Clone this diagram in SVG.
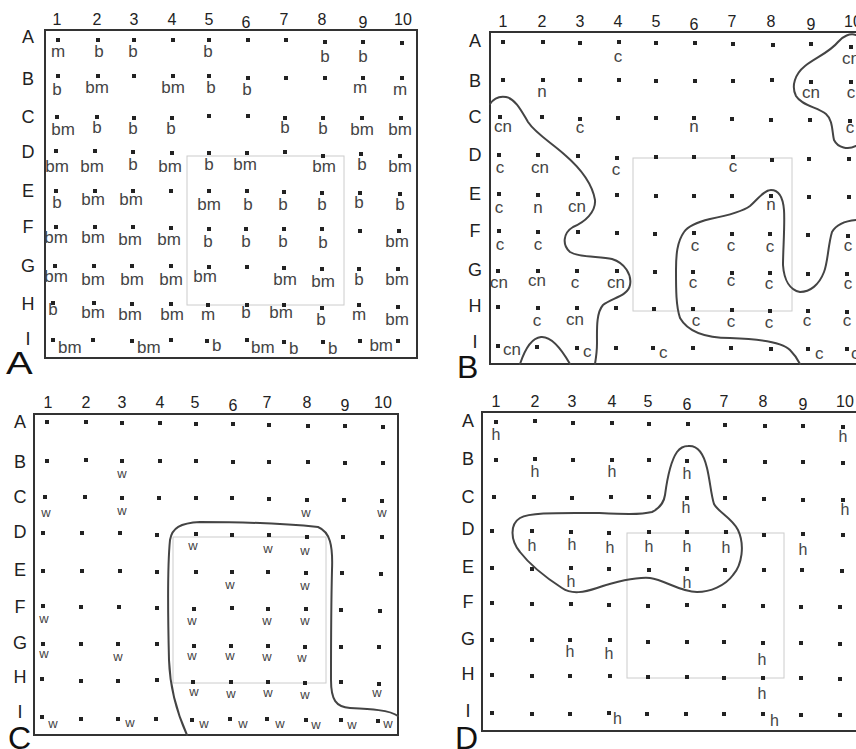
<svg xmlns="http://www.w3.org/2000/svg" xmlns:xlink="http://www.w3.org/1999/xlink" width="856" height="749" viewBox="0 0 856 749">
<style>
text{font-family:"Liberation Sans",Arial,sans-serif}
.hd{font-size:16px;fill:#222;text-anchor:middle}
.rl{font-size:18px;fill:#222;text-anchor:middle}
.lb{font-family:"Liberation Sans Narrow","Arial Narrow","Liberation Sans",sans-serif;font-size:17px;fill:#444;text-anchor:middle}
.ls{text-anchor:start}
.le{text-anchor:end}
.lw{font-size:13px;fill:#444;text-anchor:middle}
.lh{font-family:"Liberation Sans Narrow","Arial Narrow","Liberation Sans",sans-serif;font-size:16px;fill:#444;text-anchor:middle}
.pl{font-size:32px;fill:#111}
.fr{fill:none;stroke:#333;stroke-width:2}
.gr{fill:none;stroke:#ccc;stroke-width:1}
.cv{fill:none;stroke:#444;stroke-width:2;stroke-linecap:round}
</style>
<defs><rect id="d" x="-2" y="-2" width="4" height="4" fill="#222"/></defs>
<rect width="856" height="749" fill="#fff"/>

<g id="panelA">
<rect class="gr" x="187" y="156" width="157" height="149"/>
<rect class="fr" x="45" y="30" width="372" height="328"/>
<g class="hd"><text x="57" y="25">1</text><text x="97" y="25">2</text><text x="134" y="25">3</text><text x="172" y="25">4</text><text x="209" y="25">5</text><text x="246" y="28">6</text><text x="284" y="25">7</text><text x="322" y="25">8</text><text x="363" y="28">9</text><text x="403" y="25">10</text></g>
<g class="rl"><text x="28" y="43">A</text><text x="28" y="85">B</text><text x="28" y="123">C</text><text x="28" y="158">D</text><text x="28" y="197">E</text><text x="28" y="233">F</text><text x="28" y="272">G</text><text x="28" y="310">H</text><text x="28" y="345">I</text></g>
<g id="dotsA">
<use href="#d" x="58" y="40"/><use href="#d" x="98" y="40"/><use href="#d" x="134" y="40"/><use href="#d" x="173" y="40"/><use href="#d" x="209" y="40"/><use href="#d" x="248" y="40"/><use href="#d" x="286" y="40"/><use href="#d" x="325" y="42"/><use href="#d" x="363" y="42"/><use href="#d" x="402" y="43"/>
<use href="#d" x="58" y="76"/><use href="#d" x="98" y="76"/><use href="#d" x="134" y="76"/><use href="#d" x="173" y="76"/><use href="#d" x="209" y="76"/><use href="#d" x="248" y="78"/><use href="#d" x="286" y="78"/><use href="#d" x="325" y="78"/><use href="#d" x="363" y="78"/><use href="#d" x="402" y="78"/>
<use href="#d" x="57" y="117"/><use href="#d" x="97" y="117"/><use href="#d" x="134" y="118"/><use href="#d" x="172" y="118"/><use href="#d" x="209" y="116"/><use href="#d" x="248" y="116"/><use href="#d" x="285" y="118"/><use href="#d" x="323" y="118"/><use href="#d" x="362" y="118"/><use href="#d" x="401" y="118"/>
<use href="#d" x="56" y="151"/><use href="#d" x="95" y="151"/><use href="#d" x="133" y="152"/><use href="#d" x="172" y="153"/><use href="#d" x="209" y="153"/><use href="#d" x="247" y="153"/><use href="#d" x="285" y="152"/><use href="#d" x="323" y="156"/><use href="#d" x="361" y="154"/><use href="#d" x="400" y="156"/>
<use href="#d" x="56" y="191"/><use href="#d" x="95" y="191"/><use href="#d" x="133" y="191"/><use href="#d" x="171" y="191"/><use href="#d" x="209" y="191"/><use href="#d" x="247" y="191"/><use href="#d" x="284" y="192"/><use href="#d" x="322" y="193"/><use href="#d" x="360" y="193"/><use href="#d" x="400" y="194"/>
<use href="#d" x="56" y="227"/><use href="#d" x="95" y="227"/><use href="#d" x="133" y="227"/><use href="#d" x="171" y="228"/><use href="#d" x="209" y="229"/><use href="#d" x="246" y="229"/><use href="#d" x="284" y="229"/><use href="#d" x="322" y="229"/><use href="#d" x="360" y="231"/><use href="#d" x="399" y="231"/>
<use href="#d" x="55" y="266"/><use href="#d" x="94" y="266"/><use href="#d" x="132" y="266"/><use href="#d" x="171" y="266"/><use href="#d" x="209" y="267"/><use href="#d" x="247" y="267"/><use href="#d" x="284" y="268"/><use href="#d" x="322" y="269"/><use href="#d" x="359" y="269"/><use href="#d" x="398" y="269"/>
<use href="#d" x="53" y="303"/><use href="#d" x="94" y="303"/><use href="#d" x="132" y="304"/><use href="#d" x="171" y="304"/><use href="#d" x="208" y="305"/><use href="#d" x="247" y="305"/><use href="#d" x="284" y="305"/><use href="#d" x="322" y="308"/><use href="#d" x="359" y="305"/><use href="#d" x="398" y="307"/>
<use href="#d" x="53" y="340"/><use href="#d" x="93" y="340"/><use href="#d" x="132" y="341"/><use href="#d" x="171" y="340"/><use href="#d" x="207" y="341"/><use href="#d" x="247" y="340"/><use href="#d" x="284" y="342"/><use href="#d" x="323" y="342"/><use href="#d" x="360" y="341"/><use href="#d" x="398" y="341"/>
</g>
<g class="lb">
<text x="58" y="57">m</text><text x="99" y="57">b</text><text x="133" y="57">b</text><text x="208" y="57">b</text><text x="325" y="62">b</text><text x="363" y="62">b</text>
<text x="57" y="95">b</text><text x="97" y="93">bm</text><text x="173" y="93">bm</text><text x="211" y="93">b</text><text x="247" y="95">b</text><text x="360" y="93">m</text><text x="400" y="95">m</text>
<text x="63" y="135">bm</text><text x="97" y="133">b</text><text x="133" y="134">b</text><text x="171" y="134">b</text><text x="285" y="133">b</text><text x="323" y="134">b</text><text x="362" y="135">bm</text><text x="400" y="135">bm</text>
<text x="57" y="172">bm</text><text x="92" y="172">bm</text><text x="133" y="170">b</text><text x="170" y="172">bm</text><text x="209" y="170">b</text><text x="245" y="170">bm</text><text x="324" y="172">bm</text><text x="362" y="170">b</text><text x="400" y="172">bm</text>
<text x="57" y="208">b</text><text x="93" y="205">bm</text><text x="131" y="205">bm</text><text x="209" y="210">bm</text><text x="248" y="210">b</text><text x="283" y="210">b</text><text x="322" y="210">b</text><text x="359" y="208">b</text><text x="400" y="210">b</text>
<text x="56" y="243">bm</text><text x="93" y="243">bm</text><text x="130" y="245">bm</text><text x="169" y="245">bm</text><text x="208" y="247">b</text><text x="246" y="247">b</text><text x="283" y="247">b</text><text x="323" y="248">b</text><text x="397" y="247">bm</text>
<text x="56" y="282">bm</text><text x="93" y="285">bm</text><text x="132" y="285">bm</text><text x="171" y="285">bm</text><text x="205" y="282">bm</text><text x="285" y="285">bm</text><text x="323" y="287">bm</text><text x="359" y="285">b</text><text x="397" y="285">bm</text>
<text x="53" y="315">b</text><text x="93" y="318">bm</text><text x="130" y="320">bm</text><text x="172" y="320">bm</text><text x="208" y="320">m</text><text x="246" y="318">b</text><text x="281" y="318">bm</text><text x="321" y="325">b</text><text x="359" y="320">m</text><text x="397" y="325">bm</text>
<text class="ls" x="58" y="353">bm</text><text class="ls" x="137" y="353">bm</text><text class="ls" x="212" y="351">b</text><text class="ls" x="251" y="353">bm</text><text class="ls" x="289" y="354">b</text><text class="ls" x="328" y="354">b</text><text class="le" x="393" y="351">bm</text>
</g>
<text class="pl" x="6" y="374" transform="translate(6,0) scale(1.25,1) translate(-6,0)">A</text>
</g>

<g id="panelB">
<rect class="gr" x="633" y="158" width="159" height="153"/>
<path class="fr" d="M 860,32 L 490,32 L 490,364 L 860,364"/>
<g class="hd"><text x="503" y="27">1</text><text x="542" y="27">2</text><text x="580" y="27">3</text><text x="618" y="27">4</text><text x="656" y="27">5</text><text x="694" y="30">6</text><text x="732" y="27">7</text><text x="771" y="27">8</text><text x="811" y="30">9</text><text x="853" y="27">10</text></g>
<g class="rl"><text x="475" y="47">A</text><text x="475" y="87">B</text><text x="475" y="123">C</text><text x="475" y="161">D</text><text x="475" y="200">E</text><text x="475" y="237">F</text><text x="475" y="276">G</text><text x="475" y="312">H</text><text x="475" y="348">I</text></g>
<g id="dotsB">
<use href="#d" x="503" y="42"/><use href="#d" x="543" y="42"/><use href="#d" x="580" y="43"/><use href="#d" x="619" y="42"/><use href="#d" x="656" y="43"/><use href="#d" x="695" y="43"/><use href="#d" x="733" y="44"/><use href="#d" x="773" y="45"/><use href="#d" x="811" y="44"/><use href="#d" x="851" y="47"/>
<use href="#d" x="503" y="80"/><use href="#d" x="543" y="80"/><use href="#d" x="580" y="80"/><use href="#d" x="619" y="80"/><use href="#d" x="656" y="81"/><use href="#d" x="695" y="81"/><use href="#d" x="733" y="81"/><use href="#d" x="772" y="80"/><use href="#d" x="811" y="82"/><use href="#d" x="851" y="82"/>
<use href="#d" x="500" y="117"/><use href="#d" x="542" y="117"/><use href="#d" x="580" y="119"/><use href="#d" x="618" y="118"/><use href="#d" x="656" y="118"/><use href="#d" x="694" y="118"/><use href="#d" x="732" y="119"/><use href="#d" x="771" y="120"/><use href="#d" x="810" y="120"/><use href="#d" x="850" y="121"/>
<use href="#d" x="499" y="155"/><use href="#d" x="538" y="155"/><use href="#d" x="578" y="156"/><use href="#d" x="617" y="158"/><use href="#d" x="656" y="157"/><use href="#d" x="694" y="157"/><use href="#d" x="733" y="157"/><use href="#d" x="772" y="160"/><use href="#d" x="809" y="159"/><use href="#d" x="849" y="159"/>
<use href="#d" x="499" y="194"/><use href="#d" x="538" y="195"/><use href="#d" x="578" y="194"/><use href="#d" x="617" y="195"/><use href="#d" x="656" y="196"/><use href="#d" x="694" y="196"/><use href="#d" x="732" y="196"/><use href="#d" x="771" y="196"/><use href="#d" x="809" y="197"/><use href="#d" x="849" y="197"/>
<use href="#d" x="499" y="231"/><use href="#d" x="538" y="232"/><use href="#d" x="578" y="232"/><use href="#d" x="617" y="233"/><use href="#d" x="655" y="234"/><use href="#d" x="694" y="233"/><use href="#d" x="732" y="234"/><use href="#d" x="770" y="234"/><use href="#d" x="808" y="235"/><use href="#d" x="848" y="236"/>
<use href="#d" x="498" y="271"/><use href="#d" x="538" y="271"/><use href="#d" x="577" y="271"/><use href="#d" x="617" y="271"/><use href="#d" x="655" y="272"/><use href="#d" x="693" y="272"/><use href="#d" x="732" y="273"/><use href="#d" x="770" y="273"/><use href="#d" x="808" y="274"/><use href="#d" x="847" y="274"/>
<use href="#d" x="498" y="307"/><use href="#d" x="538" y="308"/><use href="#d" x="577" y="308"/><use href="#d" x="616" y="308"/><use href="#d" x="654" y="309"/><use href="#d" x="693" y="309"/><use href="#d" x="732" y="310"/><use href="#d" x="770" y="311"/><use href="#d" x="808" y="311"/><use href="#d" x="847" y="312"/>
<use href="#d" x="498" y="346"/><use href="#d" x="537" y="347"/><use href="#d" x="577" y="348"/><use href="#d" x="616" y="348"/><use href="#d" x="653" y="348"/><use href="#d" x="693" y="348"/><use href="#d" x="731" y="348"/><use href="#d" x="771" y="349"/><use href="#d" x="808" y="349"/><use href="#d" x="847" y="349"/>
</g>
<g class="lb">
<text x="618" y="62">c</text><text x="851" y="64">cn</text>
<text x="542" y="97">n</text><text x="811" y="98">cn</text><text x="851" y="98">c</text>
<text x="503" y="132">cn</text><text x="580" y="133">c</text><text x="694" y="132">n</text><text x="850" y="133">c</text>
<text x="500" y="173">c</text><text x="540" y="173">cn</text><text x="616" y="175">c</text><text x="733" y="172">c</text>
<text x="499" y="213">c</text><text x="538" y="213">n</text><text x="577" y="212">cn</text><text x="771" y="210">n</text>
<text x="500" y="250">c</text><text x="538" y="250">c</text><text x="695" y="251">c</text><text x="731" y="251">c</text><text x="770" y="252">c</text><text x="848" y="251">c</text>
<text x="499" y="288">cn</text><text x="537" y="286">cn</text><text x="575" y="288">c</text><text x="616" y="288">cn</text><text x="693" y="288">c</text><text x="731" y="286">c</text><text x="769" y="289">c</text><text x="848" y="289">c</text>
<text x="537" y="326">c</text><text x="575" y="325">cn</text><text x="696" y="326">c</text><text x="731" y="327">c</text><text x="769" y="328">c</text><text x="807" y="326">c</text><text x="847" y="326">c</text>
<text class="ls" x="503" y="355">cn</text><text class="ls" x="583" y="357">c</text><text class="ls" x="659" y="358">c</text><text class="ls" x="815" y="359">c</text><text class="ls" x="851" y="359">c</text>
</g>
<g id="curvesB">
<path class="cv" d="M 490,104 C 494,98 500,96 506,97 C 516,99 522,112 528,122 C 536,134 552,143 565,155 C 580,168 592,182 595,200 C 596,212 585,222 573,227 C 563,233 562,245 570,252 C 580,258 600,256 612,259 C 625,263 632,275 630,285 C 628,296 612,298 603,305 C 596,313 597,330 597,343 C 597,352 596,358 595,364"/>
<path class="cv" d="M 520,364 C 524,352 530,338 541,337 C 552,336 562,350 570,364"/>
<path class="cv" d="M 856,35 C 850,33 843,36 838,42 C 830,52 815,58 805,66 C 795,74 791,86 796,96 C 802,106 818,107 826,114 C 833,120 832,132 834,140 C 838,148 848,150 856,146"/>
<path class="cv" d="M 856,220 C 845,221 836,225 832,232 C 828,245 828,262 824,272 C 819,285 810,292 800,292 C 790,290 784,280 783,265 C 783,250 785,225 784,210 C 783,198 779,190 771,190 C 764,190 758,199 750,206 C 742,212 725,216 710,219 C 698,222 688,226 684,232 C 677,242 676,255 676,270 C 676,290 676,306 680,318 C 688,332 705,338 730,338 C 760,339 782,342 790,350 C 795,355 798,360 800,364"/>
</g>
<text class="pl" x="457" y="378">B</text>
</g>

<g id="panelC">
<rect class="gr" x="173" y="537" width="153" height="146"/>
<rect class="fr" x="34" y="414" width="364" height="321"/>
<g class="hd"><text x="48" y="408">1</text><text x="86" y="408">2</text><text x="122" y="408">3</text><text x="160" y="408">4</text><text x="195" y="408">5</text><text x="233" y="411">6</text><text x="267" y="408">7</text><text x="307" y="408">8</text><text x="345" y="411">9</text><text x="383" y="408">10</text></g>
<g class="rl"><text x="20" y="428">A</text><text x="20" y="468">B</text><text x="20" y="503">C</text><text x="20" y="538">D</text><text x="20" y="576">E</text><text x="20" y="613">F</text><text x="20" y="649">G</text><text x="20" y="683">H</text><text x="20" y="718">I</text></g>
<g id="dotsC">
<use href="#d" x="47" y="422"/><use href="#d" x="86" y="422"/><use href="#d" x="122" y="423"/><use href="#d" x="160" y="423"/><use href="#d" x="196" y="424"/><use href="#d" x="233" y="424"/><use href="#d" x="269" y="425"/><use href="#d" x="308" y="426"/><use href="#d" x="345" y="426"/><use href="#d" x="383" y="427"/>
<use href="#d" x="47" y="461"/><use href="#d" x="86" y="460"/><use href="#d" x="122" y="461"/><use href="#d" x="160" y="461"/><use href="#d" x="196" y="461"/><use href="#d" x="233" y="462"/><use href="#d" x="269" y="462"/><use href="#d" x="308" y="462"/><use href="#d" x="345" y="463"/><use href="#d" x="383" y="463"/>
<use href="#d" x="45" y="497"/><use href="#d" x="85" y="497"/><use href="#d" x="122" y="498"/><use href="#d" x="159" y="498"/><use href="#d" x="196" y="498"/><use href="#d" x="232" y="498"/><use href="#d" x="269" y="499"/><use href="#d" x="307" y="500"/><use href="#d" x="344" y="500"/><use href="#d" x="382" y="501"/>
<use href="#d" x="43" y="533"/><use href="#d" x="82" y="533"/><use href="#d" x="120" y="533"/><use href="#d" x="157" y="535"/><use href="#d" x="196" y="534"/><use href="#d" x="232" y="535"/><use href="#d" x="269" y="535"/><use href="#d" x="307" y="537"/><use href="#d" x="343" y="537"/><use href="#d" x="382" y="537"/>
<use href="#d" x="43" y="571"/><use href="#d" x="82" y="571"/><use href="#d" x="120" y="571"/><use href="#d" x="157" y="572"/><use href="#d" x="196" y="572"/><use href="#d" x="232" y="572"/><use href="#d" x="268" y="572"/><use href="#d" x="306" y="573"/><use href="#d" x="342" y="573"/><use href="#d" x="381" y="574"/>
<use href="#d" x="43" y="606"/><use href="#d" x="81" y="607"/><use href="#d" x="119" y="607"/><use href="#d" x="157" y="608"/><use href="#d" x="194" y="609"/><use href="#d" x="232" y="608"/><use href="#d" x="268" y="609"/><use href="#d" x="306" y="609"/><use href="#d" x="341" y="610"/><use href="#d" x="380" y="611"/>
<use href="#d" x="43" y="644"/><use href="#d" x="81" y="644"/><use href="#d" x="118" y="644"/><use href="#d" x="157" y="644"/><use href="#d" x="194" y="646"/><use href="#d" x="231" y="646"/><use href="#d" x="268" y="646"/><use href="#d" x="305" y="647"/><use href="#d" x="341" y="647"/><use href="#d" x="379" y="647"/>
<use href="#d" x="42" y="679"/><use href="#d" x="81" y="681"/><use href="#d" x="118" y="681"/><use href="#d" x="157" y="680"/><use href="#d" x="193" y="682"/><use href="#d" x="231" y="682"/><use href="#d" x="268" y="682"/><use href="#d" x="305" y="683"/><use href="#d" x="341" y="682"/><use href="#d" x="379" y="684"/>
<use href="#d" x="42" y="717"/><use href="#d" x="81" y="719"/><use href="#d" x="118" y="719"/><use href="#d" x="156" y="719"/><use href="#d" x="192" y="720"/><use href="#d" x="230" y="719"/><use href="#d" x="267" y="719"/><use href="#d" x="306" y="720"/><use href="#d" x="341" y="720"/><use href="#d" x="378" y="721"/>
</g>
<g class="lw">
<text x="122" y="478">w</text>
<text x="46" y="517">w</text><text x="122" y="515">w</text><text x="306" y="517">w</text><text x="382" y="517">w</text>
<text x="193" y="550">w</text><text x="268" y="553">w</text><text x="305" y="555">w</text>
<text x="230" y="589">w</text><text x="305" y="590">w</text>
<text x="44" y="623">w</text><text x="192" y="625">w</text><text x="267" y="625">w</text><text x="305" y="625">w</text>
<text x="44" y="658">w</text><text x="118" y="661">w</text><text x="192" y="660">w</text><text x="230" y="660">w</text><text x="267" y="661">w</text><text x="302" y="662">w</text>
<text x="194" y="696">w</text><text x="231" y="698">w</text><text x="268" y="697">w</text><text x="305" y="699">w</text><text x="377" y="697">w</text>
<text x="53" y="728">w</text><text x="130" y="727">w</text><text x="204" y="728">w</text><text x="243" y="728">w</text><text x="280" y="728">w</text><text x="316" y="729">w</text><text x="352" y="729">w</text><text x="388" y="728">w</text>
</g>
<path class="cv" d="M 187,735 C 178,715 170,690 169,660 C 168,620 167,570 170,540 C 172,528 180,523 200,522 C 240,522 290,524 318,527 C 330,532 333,545 332,570 C 331,610 331,650 331,680 C 331,700 336,707 350,708 C 370,709 390,710 398,716"/>
<text class="pl" x="8" y="749">C</text>
</g>

<g id="panelD">
<rect class="gr" x="627" y="533" width="157" height="145"/>
<path class="fr" d="M 860,412 L 482,412 L 482,731 L 860,731"/>
<g class="hd"><text x="496" y="407">1</text><text x="535" y="407">2</text><text x="572" y="407">3</text><text x="612" y="407">4</text><text x="648" y="407">5</text><text x="687" y="410">6</text><text x="724" y="407">7</text><text x="763" y="407">8</text><text x="803" y="410">9</text><text x="845" y="407">10</text></g>
<g class="rl"><text x="468" y="427">A</text><text x="468" y="465">B</text><text x="468" y="503">C</text><text x="468" y="535">D</text><text x="468" y="573">E</text><text x="468" y="608">F</text><text x="468" y="645">G</text><text x="468" y="680">H</text><text x="468" y="717">I</text></g>
<g id="dotsD">
<use href="#d" x="496" y="422"/><use href="#d" x="535" y="421"/><use href="#d" x="573" y="423"/><use href="#d" x="612" y="423"/><use href="#d" x="649" y="424"/><use href="#d" x="688" y="424"/><use href="#d" x="725" y="425"/><use href="#d" x="765" y="426"/><use href="#d" x="803" y="426"/><use href="#d" x="843" y="427"/>
<use href="#d" x="496" y="460"/><use href="#d" x="535" y="459"/><use href="#d" x="573" y="460"/><use href="#d" x="612" y="460"/><use href="#d" x="649" y="460"/><use href="#d" x="687" y="461"/><use href="#d" x="725" y="461"/><use href="#d" x="765" y="462"/><use href="#d" x="803" y="462"/><use href="#d" x="843" y="463"/>
<use href="#d" x="494" y="497"/><use href="#d" x="534" y="497"/><use href="#d" x="572" y="498"/><use href="#d" x="611" y="497"/><use href="#d" x="649" y="497"/><use href="#d" x="687" y="498"/><use href="#d" x="725" y="498"/><use href="#d" x="764" y="499"/><use href="#d" x="803" y="500"/><use href="#d" x="843" y="500"/>
<use href="#d" x="492" y="531"/><use href="#d" x="532" y="531"/><use href="#d" x="571" y="532"/><use href="#d" x="609" y="533"/><use href="#d" x="649" y="532"/><use href="#d" x="687" y="532"/><use href="#d" x="726" y="532"/><use href="#d" x="764" y="535"/><use href="#d" x="803" y="534"/><use href="#d" x="843" y="535"/>
<use href="#d" x="492" y="568"/><use href="#d" x="532" y="569"/><use href="#d" x="571" y="568"/><use href="#d" x="609" y="569"/><use href="#d" x="649" y="570"/><use href="#d" x="687" y="569"/><use href="#d" x="725" y="570"/><use href="#d" x="764" y="570"/><use href="#d" x="802" y="570"/><use href="#d" x="842" y="571"/>
<use href="#d" x="492" y="603"/><use href="#d" x="532" y="604"/><use href="#d" x="571" y="604"/><use href="#d" x="609" y="605"/><use href="#d" x="648" y="606"/><use href="#d" x="687" y="605"/><use href="#d" x="724" y="606"/><use href="#d" x="763" y="606"/><use href="#d" x="801" y="607"/><use href="#d" x="840" y="607"/>
<use href="#d" x="492" y="640"/><use href="#d" x="532" y="640"/><use href="#d" x="570" y="640"/><use href="#d" x="610" y="640"/><use href="#d" x="648" y="642"/><use href="#d" x="687" y="642"/><use href="#d" x="724" y="642"/><use href="#d" x="763" y="643"/><use href="#d" x="801" y="643"/><use href="#d" x="840" y="644"/>
<use href="#d" x="492" y="675"/><use href="#d" x="532" y="676"/><use href="#d" x="570" y="676"/><use href="#d" x="610" y="676"/><use href="#d" x="648" y="677"/><use href="#d" x="687" y="677"/><use href="#d" x="724" y="678"/><use href="#d" x="763" y="678"/><use href="#d" x="801" y="678"/><use href="#d" x="840" y="679"/>
<use href="#d" x="492" y="713"/><use href="#d" x="532" y="714"/><use href="#d" x="570" y="714"/><use href="#d" x="609" y="713"/><use href="#d" x="647" y="714"/><use href="#d" x="686" y="714"/><use href="#d" x="724" y="714"/><use href="#d" x="763" y="714"/><use href="#d" x="801" y="715"/><use href="#d" x="840" y="715"/>
</g>
<g class="lh">
<text x="496" y="440">h</text><text x="843" y="442">h</text>
<text x="535" y="477">h</text><text x="612" y="477">h</text><text x="687" y="479">h</text>
<text x="686" y="513">h</text><text x="845" y="515">h</text>
<text x="532" y="551">h</text><text x="572" y="550">h</text><text x="610" y="553">h</text><text x="649" y="552">h</text><text x="687" y="552">h</text><text x="726" y="553">h</text><text x="803" y="555">h</text>
<text x="571" y="587">h</text><text x="687" y="588">h</text>
<text x="570" y="657">h</text><text x="609" y="659">h</text><text x="762" y="665">h</text>
<text x="762" y="699">h</text>
<text class="ls" x="613" y="724">h</text><text class="ls" x="770" y="726">h</text>
</g>
<path class="cv" d="M 688,446 C 698,445 704,455 707,468 C 710,480 711,495 714,504 C 718,512 732,518 738,530 C 745,545 742,565 733,575 C 725,586 710,592 697,592 C 680,592 665,580 650,578 C 635,577 615,582 597,588 C 585,592 572,595 562,588 C 545,577 530,565 520,552 C 510,540 510,524 520,518 C 530,512 560,513 597,513 C 620,514 640,515 652,512 C 660,508 664,502 665,495 C 667,480 670,462 677,452 C 680,448 684,446 688,446 Z"/>
<text class="pl" x="455" y="749">D</text>
</g>
</svg>
